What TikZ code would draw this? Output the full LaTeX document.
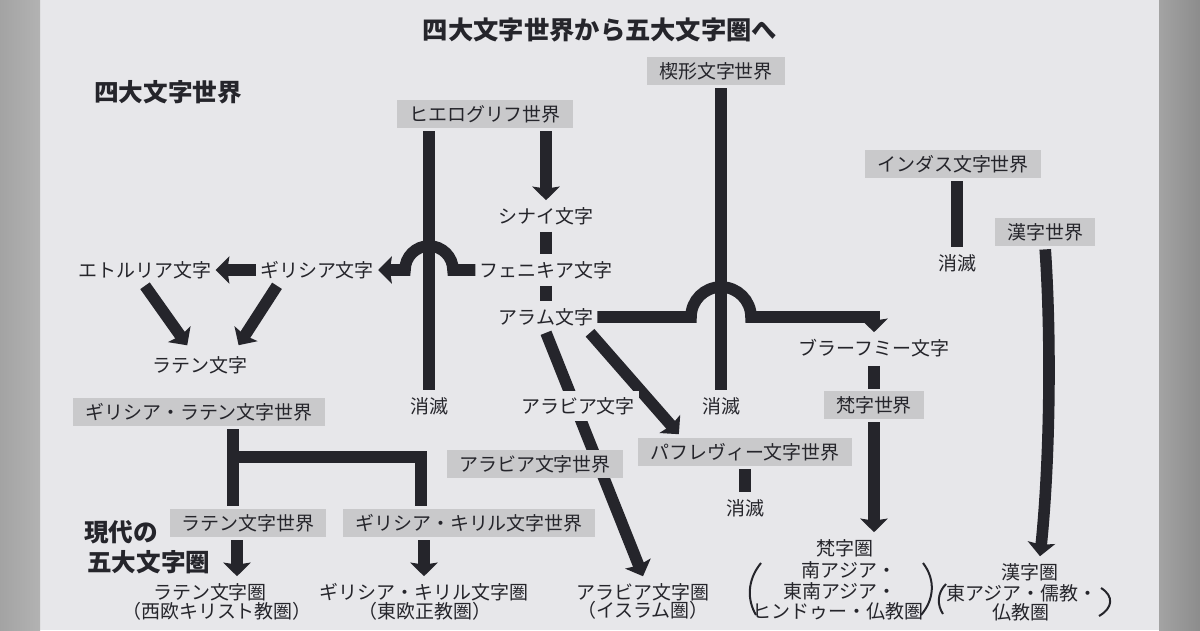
\documentclass[tikz,border=0pt]{standalone}
\usepackage{fontspec}
\setmainfont{Noto Sans CJK JP}
\usetikzlibrary{calc, arrows.meta}

\definecolor{paper}{HTML}{E7E7EA}
\definecolor{boxgray}{HTML}{C9C9CB}
\definecolor{ink}{HTML}{25252B}

\begin{document}
\begin{tikzpicture}[x = 0.025cm, y = -0.025cm,
		word/.style = {inner xsep = 0.1cm, inner ysep = 0.15cm, text = ink,
			font = \fontsize{13.5}{16}\selectfont, text height = 11.9pt, text depth = 1.6pt},
		world/.style = {word, fill = boxgray, inner xsep = 0.3cm, inner ysep = 0.11cm},
		heading/.style = {inner sep = 0, text = ink, font = \bfseries\fontsize{17.5}{20}\selectfont,
			text height = 15.4pt, text depth = 2.1pt},
		bar/.style = {draw = ink, line width = 0.29cm},
		arrowbar/.style = {bar, -{Stealth[width = 0.68cm, length = 0.34cm, inset = 0.05cm]}},
		frombox/.style = {shorten <= 0.08cm},
		paren/.style = {draw = ink, line width = 0.05cm}]

	% the page
	\fill [paper] (0,0) rectangle (1200,630);
	\shade [left color = black!36, right color = black!30] (0,0) rectangle (40,630);
	\shade [left color = black!36, right color = black!45] (1159,0) rectangle (1200,630);
	\useasboundingbox (0,0) rectangle (1200,630);

	% headings
	\node [heading, font = \bfseries\fontsize{18}{20}\selectfont] (title) at (600,30) {四大文字世界から五大文字圏へ};
	\node [heading] (oldhead) at (168,92) {四大文字世界};
	\node [heading, anchor = west] (newhead1) at (84,532) {現代の};
	\node [heading, anchor = west] (newhead2) at (87,562) {五大文字圏};

	% the four old worlds and what came of them
	\node [world] (hiero) at (485,114) {ヒエログリフ世界};
	\node [world] (kusabi) at (716,71) {楔形文字世界};
	\node [world] (indus) at (953,164) {インダス文字世界};
	\node [world] (kanji) at (1045,232) {漢字世界};
	\node [world] (grlat) at (199,412) {ギリシア・ラテン文字世界};
	\node [world] (bonji) at (874,405) {梵字世界};
	\node [world] (pahlavi) at (745,452) {パフレヴィー文字世界};
	\node [world] (latw) at (248,523) {ラテン文字世界};
	\node [world] (grkw) at (469,523) {ギリシア・キリル文字世界};

	\node [word] (sinai) at (546,216) {シナイ文字};
	\node [word] (phoen) at (546,270) {フェニキア文字};
	\node [word] (aram) at (546,317) {アラム文字};
	\node [word] (greek) at (317,270) {ギリシア文字};
	\node [word] (etr) at (145,270) {エトルリア文字};
	\node [word] (latin) at (200,365) {ラテン文字};
	\node [word] (brahmi) at (874,348) {ブラーフミー文字};
	\node [word] (lost1) at (429,406) {消滅};
	\node [word] (lost2) at (721,406) {消滅};
	\node [word] (lost3) at (957,263) {消滅};
	\node [word] (lost4) at (745,508) {消滅};

	% the five modern spheres
	\node [word] (latk) at (210,592) {ラテン文字圏};
	\node [word] (latknote) at (217,611) {（西欧キリスト教圏）};
	\node [word] (grkk) at (424,592) {ギリシア・キリル文字圏};
	\node [word] (grkknote) at (425,611) {（東欧正教圏）};
	\node [word] (arabk) at (643,592) {アラビア文字圏};
	\node [word] (arabknote) at (643,610) {（イスラム圏）};
	\node [word] (bonk) at (845,548) {梵字圏};
	\node [word] (bonknote1) at (849,570) {南アジア・};
	\node [word] (bonknote2) at (840,591) {東南アジア・};
	\node [word] (bonknote3) at (838,611) {ヒンドゥー・仏教圏};
	\node [word] (kank) at (1030,572) {漢字圏};
	\node [word] (kanknote1) at (1022,593) {東アジア・儒教・};
	\node [word] (kanknote2) at (1021,612) {仏教圏};

	\draw [paren] (761,563) .. controls (747,580) and (747,600) .. (756,615);
	\draw [paren] (923,563) .. controls (936,580) and (934,600) .. (921,615);
	\draw [paren] (946,584) .. controls (937,593) and (937,605) .. (943,614);
	\draw [paren] (1101,588) .. controls (1114,596) and (1113,608) .. (1099,616);

	% hieroglyphs
	\draw [bar, frombox] (lost1 |- hiero.south) -- (lost1.north);
	\draw [arrowbar, frombox] (sinai |- hiero.south) -- (sinai.north);
	\draw [bar] (sinai.south) -- (phoen.north);
	\draw [bar] (phoen.south) -- (aram.north);
	\draw [arrowbar] (phoen.west) -- ($(lost1 |- phoen.west)+(24,0)$)
		arc [start angle = 0, end angle = 180, radius = 0.6cm] -- (greek.east);
	\draw [arrowbar] (greek.west) -- (etr.east);
	\draw [arrowbar, shorten >= 0.12cm] (etr.south) -- ($(latin.north)+(-10,0)$);
	\draw [arrowbar, shorten >= 0.12cm] ($(greek.south)+(-40,0)$) -- ($(latin.north)+(36,0)$);

	% cuneiform, indus, han
	\draw [bar, frombox] (lost2 |- kusabi.south) -- (lost2.north);
	\draw [arrowbar] (aram.east) -- ($(lost2 |- aram.east)+(-30,0)$)
		arc [start angle = 180, end angle = 0, radius = 0.75cm] -- (brahmi.north |- aram.east) -- (brahmi.north);
	\draw [bar, shorten <= 0.05cm, shorten >= 0.05cm] (brahmi.south) -- (bonji.north);
	\draw [arrowbar, frombox] (bonji.south) -- (bonji.south |- bonk.north);
	\draw [bar, frombox] (lost3 |- indus.south) -- (lost3.north);
	\draw [arrowbar, frombox] (kanji.south) .. controls (1052,350) and (1049,470) .. ($(kank.north)+(10,0)$);

	% aramaic branches
	\draw [arrowbar] (aram.south) -- (arabk.north);
	\draw [arrowbar, shorten >= 0.12cm] ($(aram.south)+(44,0)$) -- ($(pahlavi.north)+(-63,0)$);
	\draw [bar, frombox] (lost4 |- pahlavi.south) -- (lost4.north);
	\node [word, fill = paper] (arabic) at (578,406) {アラビア文字};
	\node [world] (arabw) at (535,464) {アラビア文字世界};

	% greek-latin split
	\coordinate (fork) at (233,457);
	\coordinate (latdrop) at ($(latw.south)+(-11,0)$);
	\draw [bar, frombox, shorten >= 0.08cm] (fork |- grlat.south) -- (fork |- latw.north);
	\draw [bar, shorten >= 0.08cm] (fork) -| ($(grkw.north)+(-48,0)$);
	\draw [arrowbar, frombox] (latdrop) -- (latdrop |- latk.north);
	\draw [arrowbar, frombox] (grkk |- grkw.south) -- (grkk.north);
\end{tikzpicture}
\end{document}
